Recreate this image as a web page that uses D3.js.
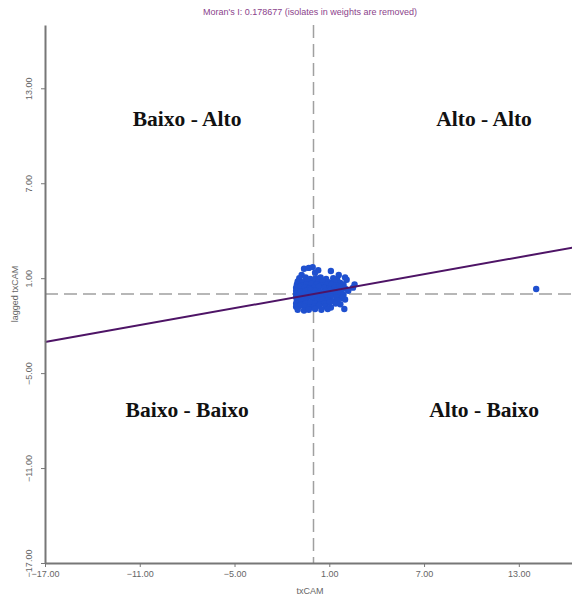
<!DOCTYPE html>
<html>
<head>
<meta charset="utf-8">
<script src="https://cdn.jsdelivr.net/npm/d3@7"></script>
<style>
  body { margin: 0; background: #fff; }
  svg { display: block; }
</style>
</head>
<body>
<svg id="viz" width="572" height="596"></svg>
<script>
// ----- data -----
const title = "Moran's I: 0.178677 (isolates in weights are removed)";
const moranI = 0.178677;
const xLabel = "txCAM";
const yLabel = "lagged txCAM";
const tickValues = [-17, -11, -5, 1, 7, 13];
const quadrants = [
  { name: "Baixo - Alto",  x: -8.0, y: 10.6 },
  { name: "Alto - Alto",   x: 10.8, y: 10.6 },
  { name: "Baixo - Baixo", x: -8.0, y: -7.8 },
  { name: "Alto - Baixo",  x: 10.8, y: -7.8 }
];

// standardized txCAM (x) and spatial lag (y)
const txCAM = [
  -0.6, -0.3, -0.05, 0.3, 1.1, 0.1, -0.75, 1.6, 2.0, 2.1, 2.6, 2.5,
  -0.9, -0.5, -0.2, 0.15, 0.45, 0.8, 1.25, 1.5,
  -1.0, -0.7, -0.35, 0.0, 0.3, 0.6, 0.95, 1.3, 1.7,
  -1.05, -0.8, -0.45, -0.15, 0.2, 0.5, 0.85, 1.15, 1.45, 1.9,
  -1.1, -0.85, -0.55, -0.25, 0.05, 0.35, 0.7, 1.0, 1.35, 1.65, 2.0,
  -1.1, -0.8, -0.5, -0.2, 0.1, 0.4, 0.75, 1.05, 1.4, 1.75, 2.2,
  -1.1, -0.85, -0.6, -0.3, 0.0, 0.3, 0.6, 0.95, 1.25, 1.6, 1.9,
  -1.1, -0.8, -0.5, -0.2, 0.15, 0.45, 0.8, 1.1, 1.45, 1.8,
  -1.05, -0.75, -0.45, -0.1, 0.25, 0.55, 0.9, 1.2, 1.5, 2.0,
  -1.1, -0.8, -0.5, -0.2, 0.1, 0.4, 0.7, 1.0, 1.4, 1.7,
  -1.1, -0.85, -0.55, -0.25, 0.05, 0.35, 0.75, 1.1,
  -1.0, -0.6, -0.3, 0.1, 0.5, 0.9,
  1.95, 14.1
];
const laggedTxCAM = [
  1.6, 1.65, 1.7, 1.5, 1.45, 1.35, 1.2, 1.2, 1.05, 0.9, 0.6, 0.4,
  1.0, 1.05, 0.95, 1.0, 1.05, 0.95, 1.0, 0.9,
  0.8, 0.75, 0.8, 0.85, 0.75, 0.8, 0.75, 0.8, 0.7,
  0.6, 0.55, 0.6, 0.65, 0.6, 0.55, 0.6, 0.6, 0.55, 0.6,
  0.4, 0.45, 0.4, 0.35, 0.4, 0.45, 0.4, 0.35, 0.4, 0.45, 0.35,
  0.2, 0.15, 0.2, 0.25, 0.2, 0.15, 0.2, 0.25, 0.2, 0.15, 0.2,
  0.0, 0.05, -0.05, 0.0, 0.05, 0.0, -0.05, 0.0, 0.05, 0.0, -0.05,
  -0.2, -0.25, -0.2, -0.15, -0.2, -0.25, -0.2, -0.15, -0.2, -0.25,
  -0.4, -0.35, -0.4, -0.45, -0.4, -0.35, -0.4, -0.45, -0.4, -0.35,
  -0.6, -0.65, -0.6, -0.55, -0.6, -0.65, -0.6, -0.55, -0.6, -0.65,
  -0.8, -0.75, -0.8, -0.85, -0.8, -0.75, -0.8, -0.85,
  -1.0, -1.05, -1.0, -0.95, -1.0, -0.95,
  -0.95, 0.32
];

// ----- chart -----
const svg = d3.select("#viz");
const x = d3.scaleLinear().domain([-17, 17]).range([45, 582]);
const y = d3.scaleLinear().domain([-17, 17]).range([563, 25]);

const fmt = d3.format(".2f");
const axisColor = "#777";
const textColor = "#666";

// title
svg.append("text")
  .attr("x", 310).attr("y", 15)
  .attr("text-anchor", "middle")
  .attr("font-family", "Arial, 'Liberation Sans', sans-serif")
  .attr("font-size", 9)
  .attr("fill", "#8b3f8b")
  .text(title);

// dashed mean lines
svg.append("line")
  .attr("x1", x(-17)).attr("x2", 572)
  .attr("y1", y(0)).attr("y2", y(0))
  .attr("stroke", "#a0a0a0").attr("stroke-width", 1.5)
  .attr("stroke-dasharray", "13,6");
svg.append("line")
  .attr("x1", x(0)).attr("x2", x(0))
  .attr("y1", y(17)).attr("y2", y(-17))
  .attr("stroke", "#a0a0a0").attr("stroke-width", 1.5)
  .attr("stroke-dasharray", "13,6");

// quadrant labels
svg.selectAll("text.quad")
  .data(quadrants)
  .join("text")
  .attr("class", "quad")
  .attr("x", d => x(d.x))
  .attr("y", d => y(d.y))
  .attr("text-anchor", "middle")
  .attr("font-family", "'Liberation Serif', 'Times New Roman', serif")
  .attr("font-weight", "bold")
  .attr("font-size", 21.5)
  .attr("fill", "#111")
  .text(d => d.name);

// points
const points = txCAM.map((v, i) => ({ x: v, y: laggedTxCAM[i] }));
svg.append("g")
  .selectAll("circle")
  .data(points)
  .join("circle")
  .attr("cx", d => x(d.x))
  .attr("cy", d => y(d.y))
  .attr("r", 3.2)
  .attr("fill", "#1f50cf");

// regression line (slope = Moran's I)
svg.append("line")
  .attr("x1", x(-17)).attr("y1", y(-17 * moranI))
  .attr("x2", x(17)).attr("y2", y(17 * moranI))
  .attr("stroke", "#4e1466").attr("stroke-width", 2);

// axes
const xAxis = svg.append("g")
  .attr("transform", `translate(0,${y(-17)})`)
  .call(d3.axisBottom(x).tickValues(tickValues).tickFormat(fmt).tickSize(4).tickSizeOuter(0));
const yAxis = svg.append("g")
  .attr("transform", `translate(${x(-17)},0)`)
  .call(d3.axisLeft(y).tickValues(tickValues).tickFormat(fmt).tickSize(4).tickSizeOuter(0));

[xAxis, yAxis].forEach(a => {
  a.select(".domain").attr("stroke", axisColor).attr("stroke-width", 2);
  a.selectAll(".tick line").attr("stroke", axisColor);
  a.selectAll(".tick text")
    .attr("fill", textColor)
    .attr("font-family", "Arial, 'Liberation Sans', sans-serif")
    .attr("font-size", 9);
});
xAxis.selectAll(".tick text").attr("dy", "0.9em").attr("y", 6);
yAxis.selectAll(".tick text")
  .attr("x", null).attr("dy", null)
  .attr("transform", "translate(-13,0) rotate(-90)")
  .attr("text-anchor", "middle");

// axis labels
svg.append("text")
  .attr("x", 310).attr("y", 594)
  .attr("text-anchor", "middle")
  .attr("font-family", "Arial, 'Liberation Sans', sans-serif")
  .attr("font-size", 9)
  .attr("fill", textColor)
  .text(xLabel);
svg.append("text")
  .attr("transform", `translate(18,${y(0)}) rotate(-90)`)
  .attr("text-anchor", "middle")
  .attr("font-family", "Arial, 'Liberation Sans', sans-serif")
  .attr("font-size", 9)
  .attr("fill", textColor)
  .text(yLabel);
</script>
</body>
</html>
